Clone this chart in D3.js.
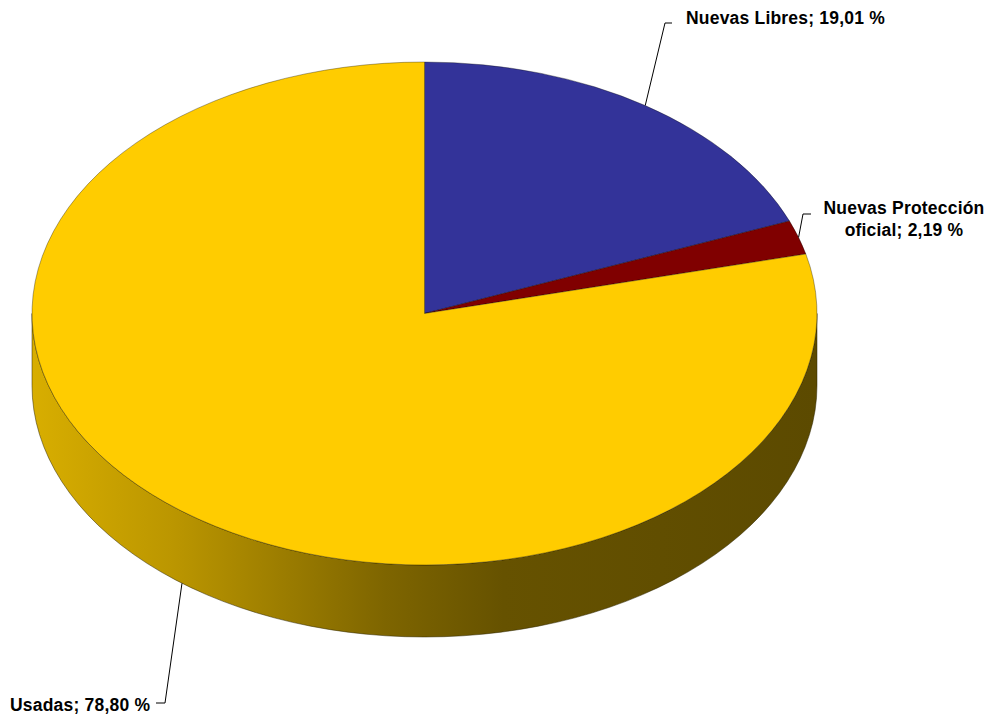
<!DOCTYPE html>
<html>
<head>
<meta charset="utf-8">
<script src="https://cdn.jsdelivr.net/npm/d3@7"></script>
<style>
  html, body { margin: 0; padding: 0; background: #fff; }
  svg { display: block; }
  text { font-family: "Liberation Sans", Arial, sans-serif; font-weight: bold; font-size: 17.5px; letter-spacing: 0.2px; fill: #000; }
</style>
</head>
<body>
<svg id="chart" width="995" height="717"></svg>
<script>
// Reparto de viviendas por tipo (%)
const categories = ["Nuevas Libres", "Nuevas Protección oficial", "Usadas"];
const values = [19.01, 2.19, 78.80];
const labelLines = [["Nuevas Libres; 19,01 %"], ["Nuevas Protección", "oficial; 2,19 %"], ["Usadas; 78,80 %"]];
const colors = ["#333399", "#800000", "#FFCC00"];

const W = 995, H = 717;
const cx = 424.5, cy = 313.5, rx = 392.5, ry = 251.5, depth = 72;

const svg = d3.select("#chart");

// Side gradient for the visible wall of the disc
const defs = svg.append("defs");
const grad = defs.append("linearGradient")
  .attr("id", "wall").attr("gradientUnits", "userSpaceOnUse")
  .attr("x1", cx - rx).attr("x2", cx + rx).attr("y1", 0).attr("y2", 0);
[[0, "#d8ae00"], [0.18, "#bb9600"], [0.45, "#7e6500"], [0.6, "#665200"], [1, "#5c4a00"]]
  .forEach(([o, c]) => grad.append("stop").attr("offset", o).attr("stop-color", c));

const pie = d3.pie().sort(null).value(d => d).startAngle(0).endAngle(2 * Math.PI);
const arcs = pie(values);

// angle measured clockwise from 12 o'clock, projected onto the ellipse
const pt = (a, dy = 0) => [cx + rx * Math.sin(a), cy - ry * Math.cos(a) + dy];

// Front wall: angles PI/2 .. 3PI/2 are visible, clipped to each slice
const wallG = svg.append("g");
arcs.forEach((d, i) => {
  const a0 = Math.max(d.startAngle, Math.PI / 2);
  const a1 = Math.min(d.endAngle, 3 * Math.PI / 2);
  if (a1 <= a0) return;
  const p0 = pt(a0), p1 = pt(a1), q0 = pt(a0, depth), q1 = pt(a1, depth);
  const large = (a1 - a0) > Math.PI ? 1 : 0;
  const path = `M${p0[0]},${p0[1]} A${rx},${ry} 0 ${large} 1 ${p1[0]},${p1[1]} ` +
    `L${q1[0]},${q1[1]} A${rx},${ry} 0 ${large} 0 ${q0[0]},${q0[1]} Z`;
  wallG.append("path").attr("d", path)
    .attr("fill", i === 2 ? "url(#wall)" : d3.color(colors[i]).darker(1.2))
    .attr("stroke", "#2a2200").attr("stroke-width", 0.7).attr("stroke-opacity", 0.7);
});

// Top face slices
const topG = svg.append("g");
arcs.forEach((d, i) => {
  const p0 = pt(d.startAngle), p1 = pt(d.endAngle);
  const large = (d.endAngle - d.startAngle) > Math.PI ? 1 : 0;
  const path = `M${cx},${cy} L${p0[0]},${p0[1]} A${rx},${ry} 0 ${large} 1 ${p1[0]},${p1[1]} Z`;
  topG.append("path").attr("d", path)
    .attr("fill", colors[i])
    .attr("stroke", "#000").attr("stroke-width", 0.6).attr("stroke-opacity", 0.55)
    .attr("stroke-linejoin", "round");
});

// Labels with leader lines
const labelPos = [
  { x: 686, y: 24, anchor: "start", elbow: [665, 23], end: [672, 23], onWall: false },
  { x: 904, y: 214, anchor: "middle", elbow: [803, 214], end: [811, 214], onWall: false },
  { x: 10, y: 711, anchor: "start", elbow: [165, 703], end: [156, 703], onWall: true }
];
const lblG = svg.append("g");
arcs.forEach((d, i) => {
  const mid = (d.startAngle + d.endAngle) / 2;
  const L = labelPos[i];
  const s = pt(mid, L.onWall ? depth : 0);
  lblG.append("polyline")
    .attr("points", [s, L.elbow, L.end].map(p => p.join(",")).join(" "))
    .attr("fill", "none").attr("stroke", "#000").attr("stroke-width", 1);
  const t = lblG.append("text").attr("text-anchor", L.anchor);
  labelLines[i].forEach((line, k) => {
    t.append("tspan").attr("x", L.x).attr("y", L.y + k * 22).text(line);
  });
});
</script>
</body>
</html>
